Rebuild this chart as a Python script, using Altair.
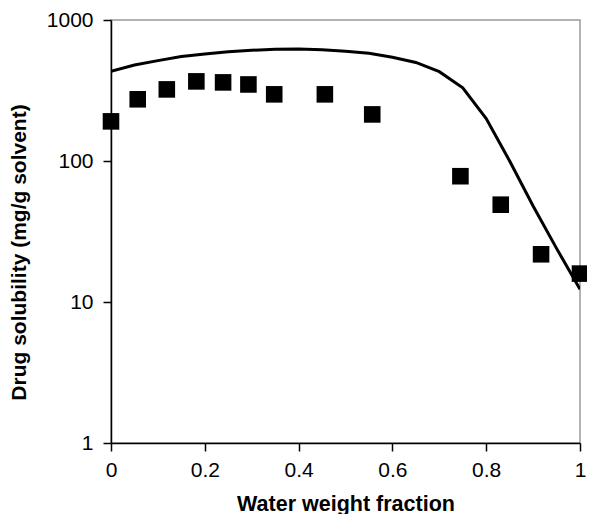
import altair as alt
import pandas as pd

# Experimental data (squares)
obs_x = [0.0, 0.057, 0.119, 0.182, 0.239, 0.293, 0.348, 0.456, 0.557, 0.745, 0.831, 0.917, 1.0]
obs_y = [191, 274, 322, 367, 361, 349, 297, 297, 214, 78, 49, 21.8, 15.9]

# Model curve (line)
fit_x = [0.0, 0.05, 0.1, 0.15, 0.2, 0.25, 0.3, 0.35, 0.4, 0.45, 0.5, 0.55,
         0.6, 0.65, 0.7, 0.75, 0.8, 0.85, 0.9, 0.95, 1.0]
fit_y = [433, 480, 515, 550, 575, 595, 610, 620, 622, 615, 600, 580,
         545, 500, 430, 330, 200, 100, 48, 24, 12.3]

obs = pd.DataFrame({"x": obs_x, "y": obs_y})
fit = pd.DataFrame({"x": fit_x, "y": fit_y})

FONT = "Liberation Sans"

xenc = alt.X(
    "x:Q",
    scale=alt.Scale(domain=[0, 1], nice=False, zero=False),
    axis=alt.Axis(
        values=[0, 0.2, 0.4, 0.6, 0.8, 1.0],
        format="~g",
        title="Water weight fraction",
        titleY=67,
        titleBaseline="alphabetic",
        titleFontSize=21.5,
    ),
)
yenc = alt.Y(
    "y:Q",
    scale=alt.Scale(type="log", domain=[1, 1000], nice=False),
    axis=alt.Axis(
        values=[1, 10, 100, 1000],
        format="d",
        title="Drug solubility (mg/g solvent)",
        titleX=-92,
        titleY=232,
        titleAlign="center",
        titleBaseline="middle",
        titleFontSize=21,
    ),
)

line = alt.Chart(fit).mark_line(color="black", strokeWidth=3, clip=True).encode(x=xenc, y=yenc)
pts = alt.Chart(obs).mark_point(shape="square", filled=True, color="black", size=275, opacity=1).encode(
    x=xenc, y=yenc
)

chart = (
    alt.layer(line, pts)
    .properties(
        width=469,
        height=423,
        autosize=alt.AutoSizeParams(type="none"),
        padding={"left": 103, "top": 12, "right": 7, "bottom": 71},
    )
    .configure_view(stroke="#999999", strokeWidth=1.5)
    .configure_axis(
        grid=False,
        domainColor="black",
        domainWidth=1.5,
        tickColor="black",
        tickWidth=1.5,
        tickSize=8,
        labelFont=FONT,
        labelFontSize=21,
        labelColor="black",
        titleFont=FONT,
        titleFontWeight="bold",
        titleColor="black",
    )
    .configure_axisX(labelPadding=8, labelFlush=False)
    .configure_axisY(labelPadding=10, labelFlush=False)
)

chart.save("out.html", embed_options={"renderer": "svg", "actions": False})
